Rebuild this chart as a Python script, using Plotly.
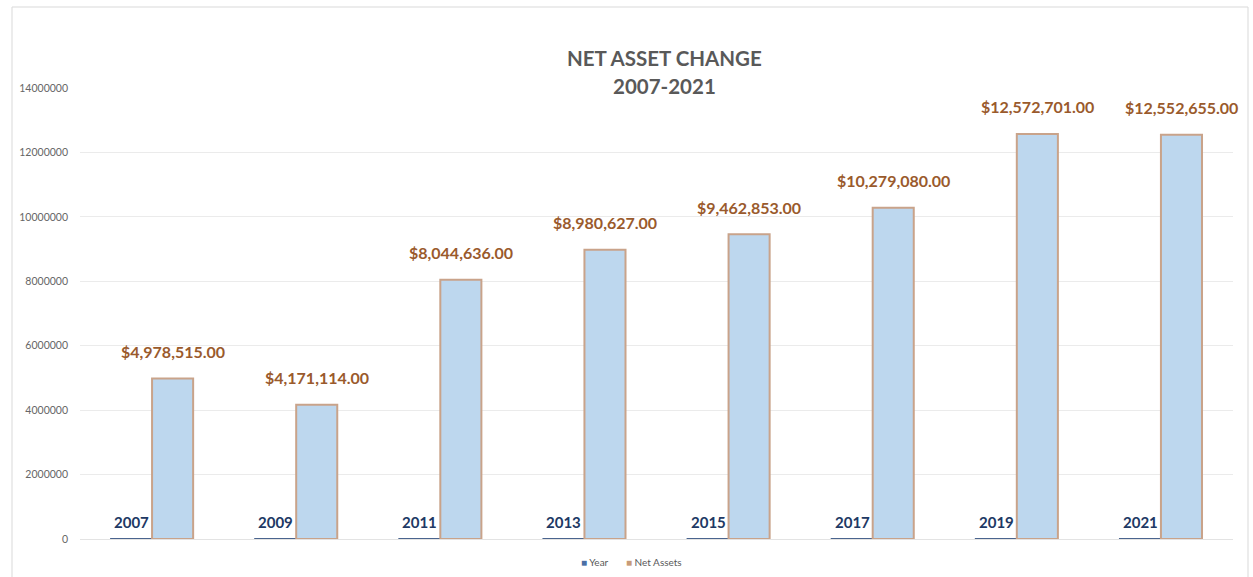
import plotly.graph_objects as go

years = ["2007", "2009", "2011", "2013", "2015", "2017", "2019", "2021"]
year_values = [2007, 2009, 2011, 2013, 2015, 2017, 2019, 2021]
net_assets = [4978515, 4171114, 8044636, 8980627, 9462853, 10279080, 12572701, 12552655]

YEAR_COLOR = "#4A648E"
YEAR_TEXT = "#203864"
NA_FILL = "#BDD7EE"
NA_LINE = "#C9A38A"
NA_TEXT = "#9A5A2C"
FONT = "Lato"

W, H = 1253, 577
ML, MR, MT, MB = 80, 20, 88, 38
PW, PH = W - ML - MR, H - MT - MB
BARGAP = 0.43
cat_px = PW / len(years)
bar_px = cat_px * (1 - BARGAP) / 2


def py(p):
    return (H - MB - p) / PH


def px(p):
    return (p - ML) / PW


fig = go.Figure()
fig.add_trace(go.Bar(
    x=years, y=year_values, name="Year", showlegend=False,
    marker=dict(color=YEAR_COLOR, line=dict(color=YEAR_COLOR, width=1.8)),
))
fig.add_trace(go.Bar(
    x=years, y=net_assets, name="Net Assets", showlegend=False,
    marker=dict(color=NA_FILL, line=dict(color=NA_LINE, width=2)),
))

for i, v in enumerate(year_values):
    fig.add_annotation(x=i, y=v, text="<b>%d</b>" % v, showarrow=False,
                       xshift=-bar_px / 2, yshift=17, yanchor="middle",
                       font=dict(family=FONT, size=15, color=YEAR_TEXT))
for i, v in enumerate(net_assets):
    fig.add_annotation(x=i, y=v, text="<b>${:,.2f}</b>".format(v), showarrow=False,
                       xshift=bar_px / 2, yshift=27, yanchor="middle",
                       font=dict(family=FONT, size=16, color=NA_TEXT))

# title
fig.add_annotation(xref="paper", yref="paper", x=px(664), y=py(58), text="<b>NET ASSET CHANGE</b>",
                   showarrow=False, xanchor="center", yanchor="middle",
                   font=dict(family=FONT, size=20.5, color="#595959"))
fig.add_annotation(xref="paper", yref="paper", x=px(664), y=py(86), text="<b>2007-2021</b>",
                   showarrow=False, xanchor="center", yanchor="middle",
                   font=dict(family=FONT, size=20.5, color="#595959"))
# legend
fig.add_annotation(xref="paper", yref="paper", x=px(631), y=py(562),
                   text="<span style='color:#4A6FA5'>■</span> Year       <span style='color:#C89B78'>■</span> Net Assets",
                   showarrow=False, xanchor="center", yanchor="middle",
                   font=dict(family=FONT, size=10, color="#595959"))

fig.update_layout(
    width=W, height=H,
    margin=dict(l=ML, r=MR, t=MT, b=MB, autoexpand=False),
    paper_bgcolor="white", plot_bgcolor="white",
    barmode="group", bargap=BARGAP, bargroupgap=0,
    font=dict(family=FONT, color="#595959"),
    showlegend=False,
)
fig.update_xaxes(type="category", range=[-0.5, len(years) - 0.5],
                 showticklabels=False, showgrid=False, showline=False, ticks="")
fig.update_yaxes(range=[0, 14000000], dtick=2000000, tickformat="d",
                 showgrid=True, gridcolor="#EBEBEB", gridwidth=1,
                 zeroline=True, zerolinecolor="#E3E3E3", zerolinewidth=1,
                 showline=False, ticks="", tickfont=dict(size=10.5, color="#666666"),
                 ticklabelstandoff=11)
fig.add_shape(type="rect", xref="paper", yref="paper",
              x0=px(12), x1=px(1248), y0=py(600), y1=py(7),
              line=dict(color="#D9D9D9", width=1), fillcolor="rgba(0,0,0,0)", layer="below")
fig.write_html("out.html", config={"displayModeBar": False},
               post_script="document.body.style.margin='0px';")
